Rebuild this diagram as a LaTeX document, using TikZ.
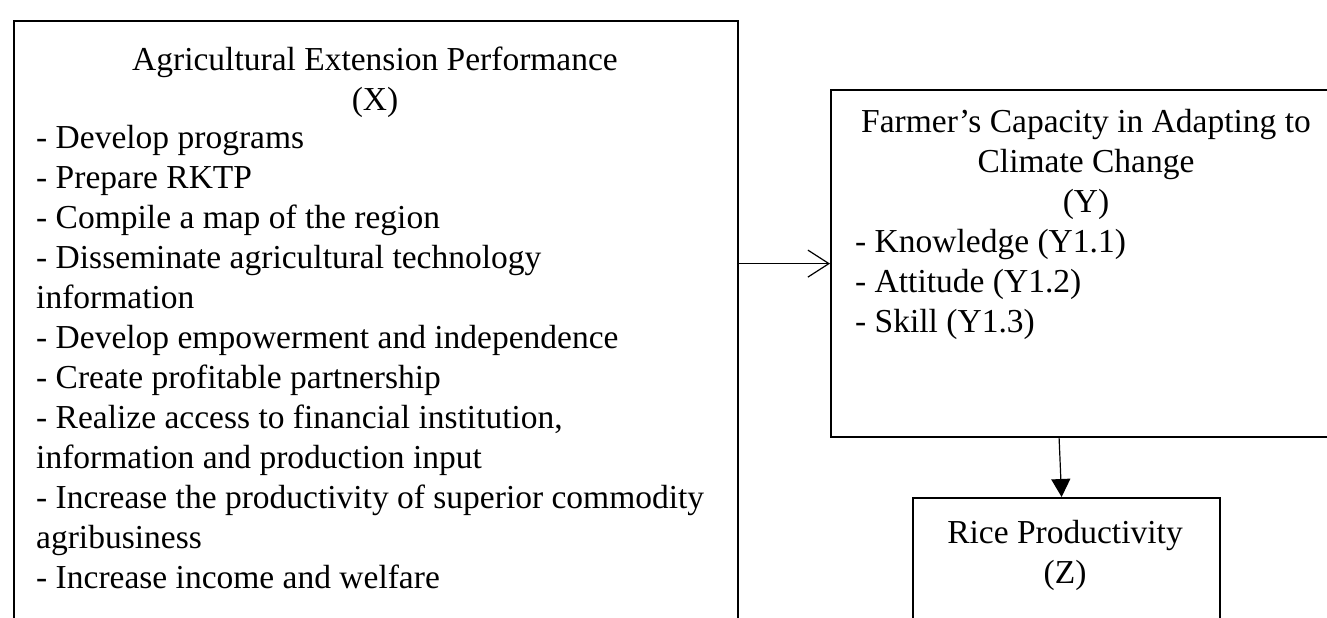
\documentclass[tikz,border=0pt]{standalone}
\usepackage{fontspec}
\setmainfont{Liberation Serif}
\usetikzlibrary{arrows.meta}

\begin{document}
\begin{tikzpicture}[
  x=1pt, y=-1pt,
  font=\fontsize{33.5}{40}\selectfont,
  box/.style={draw, line width=2.2pt, anchor=north west, inner sep=0pt},
  ttl/.style={inner sep=0pt, align=center, anchor=north},
  lst/.style={inner sep=0pt, align=left, anchor=north west},
  arr/.style={line width=1.2pt, -{Straight Barb[length=21pt, width=27pt, line width=1.2pt]}},
  fwd/.style={line width=1.2pt, -{Triangle[length=18pt, width=19pt]}}
]
\useasboundingbox (0,0) rectangle (1327,618);
\clip (0,0) rectangle (1327,618);

% boxes (cut by the page edge)
\node[box, minimum width=724pt, minimum height=640pt] (ext) at (13,20) {};
\node[box, minimum width=512pt, minimum height=347pt] (farmer) at (830,89) {};
\node[box, minimum width=307pt, minimum height=160pt] (rice) at (912,497) {};

% texts
\node[ttl] (extTitle) at (375,47) {Agricultural Extension Performance\\(X)};
\node[lst] (extList) at (36,125) {- Develop programs\\
  - Prepare RKTP\\
  - Compile a map of the region\\
  - Disseminate agricultural technology\\
  information\\
  - Develop empowerment and independence\\
  - Create profitable partnership\\
  - Realize access to financial institution,\\
  information and production input\\
  - Increase the productivity of superior commodity\\
  agribusiness\\
  - Increase income and welfare};

\node[ttl] (farmerTitle) at (1086,109) {Farmer's Capacity in Adapting to\\Climate Change\\(Y)};
\node[lst] (farmerList) at (855,229) {- Knowledge (Y1.1)\\- Attitude (Y1.2)\\- Skill (Y1.3)};

\node[ttl] (riceTitle) at (1065,520) {Rice Productivity\\(Z)};

% links
\draw[arr] (farmer.west -| ext.east) -- (farmer.west);
\draw[fwd] ([xshift=-28pt]farmer.south) -- ([xshift=-5pt]rice.north);

\end{tikzpicture}
\end{document}
